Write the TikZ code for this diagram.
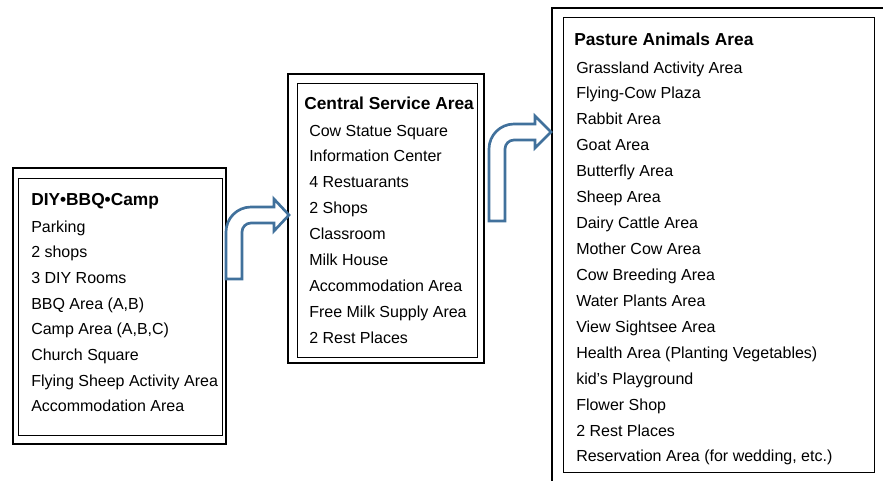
\documentclass[tikz,border=0pt]{standalone}
\usepackage{fontspec}
\setmainfont{Liberation Sans}
\usetikzlibrary{positioning}
\definecolor{arrowblue}{HTML}{41719C}
\tikzset{outerbox/.style = {draw, line width = 1.5pt}}
\tikzset{innerbox/.style = {draw, line width = 0.75pt}}
\tikzset{areatitle/.style = {anchor = base west, inner sep = 0,
                             font = \fontsize{13}{15}\selectfont\bfseries}}
\tikzset{entry/.style = {anchor = base west, inner sep = 0,
                         font = \fontsize{12}{14}\selectfont}}
\tikzset{bent/.style = {draw = arrowblue, fill = white, line width = 2pt}}

\begin{document}
\begin{tikzpicture}[x = 0.75pt, y = -0.75pt]
      \useasboundingbox (0, 0) rectangle (883, 480);
      \clip (0, 0) rectangle (883, 480);

      % DIY BBQ camp
      \draw [outerbox] (13, 168) rectangle (226, 444);
      \draw [innerbox] (18, 178) rectangle (222, 435);
      \node [areatitle] (diy) at (31, 205) {DIY•BBQ•Camp};
      \foreach \name [count = \i] in {Parking, 2 shops, 3 DIY Rooms, {BBQ Area (A,B)},
          {Camp Area (A,B,C)}, Church Square, Flying Sheep Activity Area, Accommodation Area}
        \node [entry] (diy-\i) at (31, {232 + 25.7*(\i - 1)}) {\name};

      % central service area
      \draw [outerbox] (288, 74) rectangle (484, 363);
      \draw [innerbox] (297, 83) rectangle (477, 357);
      \node [areatitle] (central) at (304, 109) {Central Service Area};
      \foreach \name [count = \i] in {Cow Statue Square, Information Center, 4 Restuarants,
          2 Shops, Classroom, Milk House, Accommodation Area, Free Milk Supply Area, 2 Rest Places}
        \node [entry] (central-\i) at (309, {136 + 25.9*(\i - 1)}) {\name};

      % pasture animals area
      \draw [outerbox] (552, 8) rectangle (895, 495);
      \draw [innerbox] (563, 17) rectangle (874, 472);
      \node [areatitle] (pasture) at (574, 45) {Pasture Animals Area};
      \foreach \name [count = \i] in {Grassland Activity Area, Flying-Cow Plaza, Rabbit Area,
          Goat Area, Butterfly Area, Sheep Area, Dairy Cattle Area, Mother Cow Area,
          Cow Breeding Area, Water Plants Area, View Sightsee Area,
          Health Area (Planting Vegetables), kid’s Playground, Flower Shop, 2 Rest Places,
          {Reservation Area (for wedding, etc.)}}
        \node [entry] (pasture-\i) at (576, {73 + 25.93*(\i - 1)}) {\name};

      % bent arrows
      \draw [bent] (226, 279) -- (226, 232) arc (180:90:18.75pt) -- (274, 207)
        -- (274, 199) -- (289, 215) -- (274, 231) -- (274, 223) -- (251, 223)
        arc (90:180:6.75pt) -- (242, 279) -- cycle;
      \draw [bent] (489, 221) -- (489, 149) arc (180:90:18.75pt) -- (535, 124)
        -- (535, 116) -- (551, 132) -- (535, 148) -- (535, 140) -- (514, 140)
        arc (90:180:6.75pt) -- (505, 221) -- cycle;
    \end{tikzpicture}
\end{document}
